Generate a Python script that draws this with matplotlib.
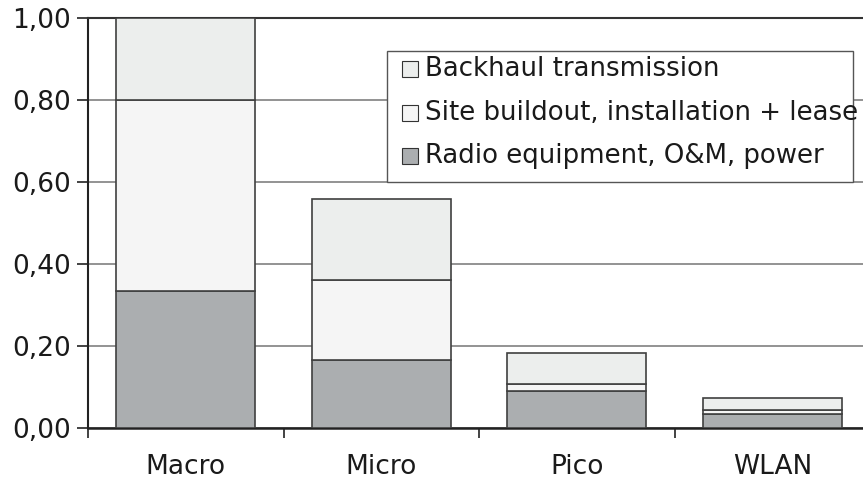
import numpy as np
import matplotlib
matplotlib.use("Agg")
import matplotlib.pyplot as plt
from matplotlib.patches import Rectangle
from matplotlib.ticker import FuncFormatter, FixedLocator

plt.rcParams['font.family'] = ['DejaVu Sans']

categories = ['Macro', 'Micro', 'Pico', 'WLAN']
radio = [0.333, 0.166, 0.090, 0.035]
site = [0.467, 0.195, 0.017, 0.008]
backhaul = [0.200, 0.198, 0.077, 0.031]
series_names = ['Radio equipment, O&M, power',
                'Site buildout, installation + lease',
                'Backhaul transmission']
yticks = [0.0, 0.2, 0.4, 0.6, 0.8, 1.0]

W, H = 863, 482
fig = plt.figure(figsize=(W / 100, H / 100), dpi=100)
ax = fig.add_axes([88 / W, 1 - 428 / H, 782 / W, 410 / H])

x = np.arange(len(categories))
w = 0.71
edge = '#404040'
colors = ['#abaeb0', '#f5f5f5', '#eceeed']
ax.bar(x, radio, w, color=colors[0], edgecolor=edge, linewidth=1.2, zorder=3)
ax.bar(x, site, w, bottom=radio, color=colors[1], edgecolor=edge, linewidth=1.2, zorder=3)
bottom2 = np.array(radio) + np.array(site)
ax.bar(x, backhaul, w, bottom=bottom2, color=colors[2], edgecolor=edge, linewidth=1.2, zorder=3)

ax.set_xlim(-0.5, len(categories) - 0.5)
ax.set_ylim(0, 1.0)
ax.yaxis.set_major_locator(FixedLocator(yticks))
ax.yaxis.set_major_formatter(FuncFormatter(lambda v, p: ('%.2f' % v).replace('.', ',')))
ax.grid(axis='y', color='#808080', linewidth=1.2, zorder=0)

# category labels centered, ticks on the boundaries
ax.set_xticks(np.arange(-0.5, len(categories)))
ax.set_xticklabels([])
ax.set_xticks(x, minor=True)
ax.set_xticklabels(categories, minor=True, fontsize=19, color='#1a1a1a')
ax.tick_params(axis='x', which='minor', length=0, pad=19)
ax.tick_params(axis='x', which='major', direction='out', length=7, width=1.2, color='#222222')
ax.tick_params(axis='y', direction='out', length=8, width=1.2, color='#222222',
               labelsize=19, labelcolor='#1a1a1a', pad=4)

ax.spines['right'].set_visible(False)
ax.spines['top'].set_color('#333333')
ax.spines['top'].set_linewidth(1.5)
ax.spines['left'].set_color('#222222')
ax.spines['left'].set_linewidth(1.5)
ax.spines['bottom'].set_color('#222222')
ax.spines['bottom'].set_linewidth(1.8)

# legend drawn by hand: the text runs past the frame in the original
px = lambda a, b: (a / W, 1 - b / H)
fig.patches.append(Rectangle(px(387, 182), 466 / W, 131 / H, transform=fig.transFigure,
                             facecolor='white', edgecolor='#555555', linewidth=1.0, zorder=5))
rows = [69, 113, 156]
for yy, name, c in zip(rows, series_names[::-1], colors[::-1]):
    fig.patches.append(Rectangle(px(402, yy + 8), 16 / W, 16 / H, transform=fig.transFigure,
                                 facecolor=c, edgecolor='#333333', linewidth=0.8, zorder=6))
    fig.text(425 / W, 1 - yy / H, name, fontsize=18.7, va='center', ha='left',
             color='#1a1a1a', zorder=7)

fig.savefig('out.png', dpi=100)
